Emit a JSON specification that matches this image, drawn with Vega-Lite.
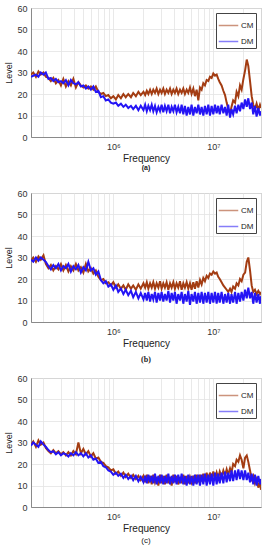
{
  "$schema": "https://vega.github.io/schema/vega-lite/v6.json",
  "padding": {"top": 3, "left": 4, "right": 6, "bottom": 3},
  "background": "white",
  "bounds": "flush",
  "spacing": 56,
  "config": {
    "font": "Liberation Sans, DejaVu Sans",
    "view": {"stroke": "#a0a0a0", "strokeWidth": 1},
    "axis": {
      "labelFont": "Liberation Sans, DejaVu Sans",
      "titleFont": "Liberation Sans, DejaVu Sans",
      "labelColor": "#333333",
      "titleColor": "#222222",
      "titleFontWeight": "normal",
      "domainColor": "#8a8a8a",
      "gridColor": "#e3e3e3",
      "gridWidth": 0.8,
      "tickSize": 0
    },
    "legend": {
      "orient": "top-right",
      "offset": 5,
      "padding": 2,
      "strokeColor": "#444444",
      "fillColor": "white",
      "symbolType": "stroke",
      "symbolSize": 380,
      "symbolStrokeWidth": 1.5,
      "symbolOpacity": 0.55,
      "labelFontSize": 8,
      "labelColor": "#222222",
      "labelOffset": 2,
      "rowPadding": 1,
      "title": null
    }
  },
  "data": {"values": [
    {"f":1.5e5,"aCM":29,"aDM":28,"bCM":28.5,"bDM":29,"cCM":29,"cDM":28.5},
    {"f":1.58e5,"aCM":30,"aDM":28.5,"bCM":30,"bDM":28,"cCM":30.5,"cDM":30},
    {"f":1.68e5,"aCM":28,"aDM":29,"bCM":28,"bDM":30,"cCM":28,"cDM":29},
    {"f":1.78e5,"aCM":30.5,"aDM":28,"bCM":30.5,"bDM":28.5,"cCM":31,"cDM":28},
    {"f":1.88e5,"aCM":29,"aDM":30,"bCM":29,"bDM":30,"cCM":29,"cDM":30.5},
    {"f":2.0e5,"aCM":30,"aDM":29,"bCM":31,"bDM":29,"cCM":30,"cDM":29},
    {"f":2.11e5,"aCM":28,"aDM":30,"bCM":27,"bDM":28,"cCM":27.5,"cDM":28},
    {"f":2.24e5,"aCM":27.5,"aDM":27,"bCM":25,"bDM":26,"cCM":26,"cDM":26.5},
    {"f":2.37e5,"aCM":26,"aDM":27.5,"bCM":26.5,"bDM":24.5,"cCM":25,"cDM":25.5},
    {"f":2.51e5,"aCM":27.5,"aDM":26,"bCM":24,"bDM":26.5,"cCM":26.5,"cDM":26},
    {"f":2.66e5,"aCM":25,"aDM":27,"bCM":26,"bDM":25,"cCM":25,"cDM":24.5},
    {"f":2.82e5,"aCM":26.5,"aDM":25.5,"bCM":24.5,"bDM":27,"cCM":26,"cDM":25.5},
    {"f":2.99e5,"aCM":24,"aDM":26,"bCM":27,"bDM":24,"cCM":24.5,"cDM":24},
    {"f":3.16e5,"aCM":27,"aDM":25,"bCM":24,"bDM":26,"cCM":25.5,"cDM":25},
    {"f":3.35e5,"aCM":23.5,"aDM":26.5,"bCM":26.5,"bDM":25,"cCM":24,"cDM":24.5},
    {"f":3.55e5,"aCM":26,"aDM":24,"bCM":23.5,"bDM":27,"cCM":25.5,"cDM":23.5},
    {"f":3.76e5,"aCM":24,"aDM":26.5,"bCM":26,"bDM":23.5,"cCM":24,"cDM":25},
    {"f":3.98e5,"aCM":27,"aDM":25,"bCM":24,"bDM":26,"cCM":26,"cDM":24},
    {"f":4.22e5,"aCM":23,"aDM":24.5,"bCM":27,"bDM":24.5,"cCM":24.5,"cDM":25.5},
    {"f":4.47e5,"aCM":25.5,"aDM":25.5,"bCM":24,"bDM":26.5,"cCM":30,"cDM":24},
    {"f":4.73e5,"aCM":24,"aDM":23.5,"bCM":25.5,"bDM":23,"cCM":25,"cDM":25},
    {"f":5.01e5,"aCM":23,"aDM":24,"bCM":23,"bDM":25.5,"cCM":27,"cDM":23.5},
    {"f":5.31e5,"aCM":24,"aDM":22.5,"bCM":27,"bDM":24,"cCM":24.5,"cDM":25},
    {"f":5.62e5,"aCM":22.5,"aDM":23.5,"bCM":23.5,"bDM":28,"cCM":26,"cDM":23},
    {"f":5.96e5,"aCM":23.5,"aDM":22,"bCM":25,"bDM":24,"cCM":23.5,"cDM":24},
    {"f":6.31e5,"aCM":22,"aDM":23.5,"bCM":22.5,"bDM":25,"cCM":25,"cDM":22},
    {"f":6.68e5,"aCM":23.5,"aDM":21,"bCM":24,"bDM":22,"cCM":22.5,"cDM":22.5},
    {"f":7.08e5,"aCM":21,"aDM":21.5,"bCM":21,"bDM":23.5,"cCM":23,"cDM":20.5},
    {"f":7.5e5,"aCM":20,"aDM":18.5,"bCM":19.5,"bDM":19.5,"cCM":21,"cDM":21},
    {"f":7.94e5,"aCM":20.5,"aDM":19,"bCM":20,"bDM":18,"cCM":20.5,"cDM":19},
    {"f":8.41e5,"aCM":19,"aDM":17,"bCM":18,"bDM":19,"cCM":19,"cDM":18.5},
    {"f":8.91e5,"aCM":19.5,"aDM":17.5,"bCM":18.5,"bDM":16.5,"cCM":18.5,"cDM":17},
    {"f":9.44e5,"aCM":18,"aDM":16,"bCM":17,"bDM":17.5,"cCM":17,"cDM":16.5},
    {"f":1.0e6,"aCM":19,"aDM":15.5,"bCM":18.5,"bDM":15,"cCM":17.5,"cDM":15},
    {"f":1.06e6,"aCM":17.5,"aDM":16,"bCM":16,"bDM":17,"cCM":15.5,"cDM":16},
    {"f":1.12e6,"aCM":19.5,"aDM":14.5,"bCM":17.5,"bDM":14,"cCM":16.5,"cDM":14.5},
    {"f":1.19e6,"aCM":18,"aDM":15.5,"bCM":15.5,"bDM":15.5,"cCM":14.5,"cDM":15.5},
    {"f":1.26e6,"aCM":20,"aDM":14,"bCM":17,"bDM":13,"cCM":16,"cDM":13.5},
    {"f":1.33e6,"aCM":18.5,"aDM":15,"bCM":15,"bDM":15,"cCM":14,"cDM":15},
    {"f":1.41e6,"aCM":20,"aDM":13.5,"bCM":17.5,"bDM":12.5,"cCM":15.5,"cDM":13},
    {"f":1.5e6,"aCM":18.5,"aDM":14.5,"bCM":15.5,"bDM":14.5,"cCM":13.5,"cDM":14.5},
    {"f":1.58e6,"aCM":20.5,"aDM":13,"bCM":17,"bDM":11.5,"cCM":15,"cDM":12.5},
    {"f":1.68e6,"aCM":19,"aDM":14.5,"bCM":15,"bDM":14,"cCM":13,"cDM":14.5},
    {"f":1.78e6,"aCM":21,"aDM":12.5,"bCM":17.5,"bDM":11,"cCM":14.5,"cDM":12},
    {"f":1.88e6,"aCM":19.5,"aDM":14.5,"bCM":15.5,"bDM":13.5,"cCM":12.5,"cDM":14},
    {"f":2.0e6,"aCM":21,"aDM":12.5,"bCM":18,"bDM":10.5,"cCM":14.5,"cDM":11.5},
    {"f":2.08e6,"aCM":19.5,"aDM":15,"bCM":16,"bDM":13.5,"cCM":11.5,"cDM":14.5},
    {"f":2.16e6,"aCM":21.5,"aDM":12,"bCM":18.5,"bDM":10,"cCM":15,"cDM":11},
    {"f":2.24e6,"aCM":20,"aDM":14.5,"bCM":15.5,"bDM":14,"cCM":11,"cDM":15},
    {"f":2.33e6,"aCM":22,"aDM":12.5,"bCM":18,"bDM":9.5,"cCM":14.5,"cDM":11.5},
    {"f":2.42e6,"aCM":20,"aDM":15,"bCM":16,"bDM":13,"cCM":10.5,"cDM":14.5},
    {"f":2.51e6,"aCM":22,"aDM":12,"bCM":18.5,"bDM":10.5,"cCM":15,"cDM":11},
    {"f":2.61e6,"aCM":20.5,"aDM":14.5,"bCM":15.5,"bDM":14,"cCM":11.5,"cDM":15.5},
    {"f":2.71e6,"aCM":22.5,"aDM":11.5,"bCM":18,"bDM":9,"cCM":14,"cDM":10.5},
    {"f":2.82e6,"aCM":20,"aDM":14,"bCM":16,"bDM":13.5,"cCM":10,"cDM":14.5},
    {"f":2.93e6,"aCM":22,"aDM":12,"bCM":19,"bDM":10,"cCM":15,"cDM":11},
    {"f":3.04e6,"aCM":20.5,"aDM":15,"bCM":15.5,"bDM":14,"cCM":11,"cDM":15},
    {"f":3.16e6,"aCM":22.5,"aDM":11.5,"bCM":18,"bDM":9.5,"cCM":14.5,"cDM":10.5},
    {"f":3.28e6,"aCM":20,"aDM":14.5,"bCM":16,"bDM":13,"cCM":10.5,"cDM":14.5},
    {"f":3.41e6,"aCM":22,"aDM":12,"bCM":18.5,"bDM":10,"cCM":15,"cDM":11},
    {"f":3.55e6,"aCM":20.5,"aDM":15,"bCM":15,"bDM":14.5,"cCM":11,"cDM":15.5},
    {"f":3.69e6,"aCM":22.5,"aDM":11,"bCM":18,"bDM":9,"cCM":14,"cDM":10.5},
    {"f":3.83e6,"aCM":20,"aDM":14,"bCM":16,"bDM":13.5,"cCM":10,"cDM":14.5},
    {"f":3.98e6,"aCM":22,"aDM":12,"bCM":18.5,"bDM":10,"cCM":15,"cDM":11},
    {"f":4.13e6,"aCM":20.5,"aDM":15,"bCM":15.5,"bDM":14,"cCM":11.5,"cDM":15},
    {"f":4.29e6,"aCM":22.5,"aDM":11.5,"bCM":18,"bDM":8.5,"cCM":14.5,"cDM":10.5},
    {"f":4.46e6,"aCM":20,"aDM":14,"bCM":16,"bDM":13,"cCM":10.5,"cDM":15},
    {"f":4.64e6,"aCM":22,"aDM":11,"bCM":19,"bDM":10,"cCM":14,"cDM":11},
    {"f":4.82e6,"aCM":20.5,"aDM":15,"bCM":15,"bDM":14,"cCM":11,"cDM":15.5},
    {"f":5.01e6,"aCM":22.5,"aDM":10.5,"bCM":18,"bDM":8.5,"cCM":15,"cDM":10.5},
    {"f":5.2e6,"aCM":20,"aDM":14.5,"bCM":16,"bDM":13,"cCM":10.5,"cDM":14.5},
    {"f":5.41e6,"aCM":22,"aDM":10,"bCM":18.5,"bDM":9.5,"cCM":14.5,"cDM":10},
    {"f":5.62e6,"aCM":20.5,"aDM":14,"bCM":15.5,"bDM":14.5,"cCM":11,"cDM":15},
    {"f":5.84e6,"aCM":23,"aDM":10.5,"bCM":18,"bDM":8,"cCM":14,"cDM":10.5},
    {"f":6.06e6,"aCM":20,"aDM":15,"bCM":15,"bDM":13,"cCM":11.5,"cDM":14.5},
    {"f":6.31e6,"aCM":22.5,"aDM":10,"bCM":18.5,"bDM":9.5,"cCM":14.5,"cDM":10},
    {"f":6.55e6,"aCM":19,"aDM":14,"bCM":15.5,"bDM":14,"cCM":11,"cDM":15},
    {"f":6.81e6,"aCM":22,"aDM":11,"bCM":19,"bDM":8.5,"cCM":15,"cDM":10.5},
    {"f":7.08e6,"aCM":17,"aDM":15,"bCM":16,"bDM":13.5,"cCM":11.5,"cDM":15},
    {"f":7.36e6,"aCM":23,"aDM":10.5,"bCM":19.5,"bDM":9,"cCM":15,"cDM":10},
    {"f":7.64e6,"aCM":22,"aDM":14,"bCM":17.5,"bDM":14,"cCM":12,"cDM":15},
    {"f":7.94e6,"aCM":25,"aDM":10,"bCM":20.5,"bDM":8.5,"cCM":15.5,"cDM":10.5},
    {"f":8.25e6,"aCM":24,"aDM":14.5,"bCM":19,"bDM":13.5,"cCM":12,"cDM":15.5},
    {"f":8.58e6,"aCM":26.5,"aDM":10.5,"bCM":21.5,"bDM":9,"cCM":16,"cDM":10},
    {"f":8.91e6,"aCM":26,"aDM":15,"bCM":20.5,"bDM":14,"cCM":12.5,"cDM":15},
    {"f":9.26e6,"aCM":28,"aDM":10,"bCM":22.5,"bDM":8.5,"cCM":16,"cDM":10.5},
    {"f":9.62e6,"aCM":27.5,"aDM":14.5,"bCM":22,"bDM":13.5,"cCM":13,"cDM":15.5},
    {"f":1.0e7,"aCM":29.5,"aDM":10.5,"bCM":23.5,"bDM":9,"cCM":16.5,"cDM":10},
    {"f":1.04e7,"aCM":28.5,"aDM":15,"bCM":22.5,"bDM":14,"cCM":13,"cDM":16},
    {"f":1.08e7,"aCM":29,"aDM":11,"bCM":23,"bDM":8.5,"cCM":16,"cDM":10.5},
    {"f":1.12e7,"aCM":27,"aDM":14.5,"bCM":21,"bDM":13.5,"cCM":13.5,"cDM":15.5},
    {"f":1.16e7,"aCM":25.5,"aDM":10.5,"bCM":20,"bDM":9,"cCM":16.5,"cDM":11},
    {"f":1.21e7,"aCM":24,"aDM":15,"bCM":18.5,"bDM":14,"cCM":14,"cDM":16},
    {"f":1.26e7,"aCM":21.5,"aDM":11,"bCM":17,"bDM":8.5,"cCM":17,"cDM":11},
    {"f":1.31e7,"aCM":19.5,"aDM":14,"bCM":16,"bDM":13,"cCM":14.5,"cDM":16.5},
    {"f":1.36e7,"aCM":16,"aDM":10,"bCM":15,"bDM":9,"cCM":17.5,"cDM":11.5},
    {"f":1.41e7,"aCM":13,"aDM":15,"bCM":14,"bDM":13.5,"cCM":15,"cDM":16},
    {"f":1.47e7,"aCM":11,"aDM":9,"bCM":15.5,"bDM":8.5,"cCM":18,"cDM":12},
    {"f":1.52e7,"aCM":14,"aDM":13,"bCM":14,"bDM":13,"cCM":16,"cDM":17},
    {"f":1.58e7,"aCM":17,"aDM":10.5,"bCM":16.5,"bDM":9,"cCM":20,"cDM":12},
    {"f":1.65e7,"aCM":16,"aDM":14.5,"bCM":15.5,"bDM":14,"cCM":19,"cDM":17},
    {"f":1.71e7,"aCM":21,"aDM":11,"bCM":18,"bDM":8.5,"cCM":22,"cDM":12.5},
    {"f":1.78e7,"aCM":19,"aDM":15,"bCM":17,"bDM":13.5,"cCM":21,"cDM":17.5},
    {"f":1.85e7,"aCM":24,"aDM":12,"bCM":20,"bDM":9.5,"cCM":24,"cDM":13},
    {"f":1.92e7,"aCM":22,"aDM":16,"bCM":19,"bDM":14,"cCM":22,"cDM":17},
    {"f":2.0e7,"aCM":27,"aDM":13,"bCM":22,"bDM":10,"cCM":18,"cDM":12.5},
    {"f":2.08e7,"aCM":31,"aDM":17.5,"bCM":23,"bDM":15,"cCM":23,"cDM":17},
    {"f":2.16e7,"aCM":36,"aDM":14,"bCM":28,"bDM":11,"cCM":24,"cDM":12.5},
    {"f":2.24e7,"aCM":33,"aDM":18,"bCM":30,"bDM":16,"cCM":21,"cDM":16},
    {"f":2.33e7,"aCM":26,"aDM":13,"bCM":24,"bDM":11,"cCM":17,"cDM":11.5},
    {"f":2.42e7,"aCM":19,"aDM":16,"bCM":17,"bDM":14,"cCM":13,"cDM":15.5},
    {"f":2.51e7,"aCM":15,"aDM":10.5,"bCM":14,"bDM":8.5,"cCM":14.5,"cDM":10.5},
    {"f":2.61e7,"aCM":13,"aDM":14.5,"bCM":15,"bDM":13.5,"cCM":11,"cDM":15},
    {"f":2.71e7,"aCM":15.5,"aDM":9.5,"bCM":13,"bDM":9,"cCM":13,"cDM":10},
    {"f":2.82e7,"aCM":12.5,"aDM":13.5,"bCM":14.5,"bDM":13,"cCM":9,"cDM":14.5},
    {"f":2.93e7,"aCM":15,"aDM":10,"bCM":13,"bDM":8.5,"cCM":12,"cDM":10.5},
    {"f":3.0e7,"aCM":13.5,"aDM":12,"bCM":14,"bDM":12,"cCM":8,"cDM":13}
  ]},
  "resolve": {"scale": {"color": "independent"}},
  "vconcat": [
    {
      "width": 230, "height": 129,
      "title": {"text": "(a)", "orient": "bottom", "anchor": "middle", "font": "Liberation Sans", "fontSize": 7, "fontWeight": "bold", "color": "#222222", "offset": 1},
      "transform": [{"fold": ["aCM", "aDM"], "as": ["s", "v"]}],
      "mark": {"type": "line", "strokeWidth": 2, "clip": true},
      "encoding": {
        "x": {"field": "f", "type": "quantitative", "scale": {"type": "log", "domain": [150000, 30000000], "nice": false},
          "axis": {"title": "Frequency", "titleFontSize": 10, "titlePadding": 2, "labelFontSize": 9, "labelPadding": 5, "grid": true,
            "values": [200000, 300000, 400000, 500000, 600000, 700000, 800000, 900000, 1000000, 2000000, 3000000, 4000000, 5000000, 6000000, 7000000, 8000000, 9000000, 10000000, 20000000, 30000000],
            "labelExpr": "datum.value == 1000000 ? '10⁶' : (datum.value == 10000000 ? '10⁷' : '')"}},
        "y": {"field": "v", "type": "quantitative", "scale": {"domain": [0, 60], "nice": false},
          "axis": {"title": "Level", "titleFontSize": 9, "titlePadding": 3, "labelFontSize": 9, "labelPadding": 4, "values": [0, 10, 20, 30, 40, 50, 60]}},
        "color": {"field": "s", "type": "nominal", "scale": {"domain": ["aCM", "aDM"], "range": ["#a33c12", "#2414f5"]},
          "legend": {"labelExpr": "slice(datum.label, 1)"}}
      }
    },
    {
      "width": 230, "height": 129,
      "title": {"text": "(b)", "orient": "bottom", "anchor": "middle", "font": "Liberation Serif", "fontSize": 8, "fontWeight": "bold", "color": "#222222", "offset": 8},
      "transform": [{"fold": ["bCM", "bDM"], "as": ["s", "v"]}],
      "mark": {"type": "line", "strokeWidth": 2, "clip": true},
      "encoding": {
        "x": {"field": "f", "type": "quantitative", "scale": {"type": "log", "domain": [150000, 30000000], "nice": false},
          "axis": {"title": "Frequency", "titleFontSize": 10, "titlePadding": 2, "labelFontSize": 9, "labelPadding": 5, "grid": true,
            "values": [200000, 300000, 400000, 500000, 600000, 700000, 800000, 900000, 1000000, 2000000, 3000000, 4000000, 5000000, 6000000, 7000000, 8000000, 9000000, 10000000, 20000000, 30000000],
            "labelExpr": "datum.value == 1000000 ? '10⁶' : (datum.value == 10000000 ? '10⁷' : '')"}},
        "y": {"field": "v", "type": "quantitative", "scale": {"domain": [0, 60], "nice": false},
          "axis": {"title": "Level", "titleFontSize": 9, "titlePadding": 3, "labelFontSize": 9, "labelPadding": 4, "values": [0, 10, 20, 30, 40, 50, 60]}},
        "color": {"field": "s", "type": "nominal", "scale": {"domain": ["bCM", "bDM"], "range": ["#a33c12", "#2414f5"]},
          "legend": {"labelExpr": "slice(datum.label, 1)"}}
      }
    },
    {
      "width": 230, "height": 129,
      "title": {"text": "(c)", "orient": "bottom", "anchor": "middle", "font": "Liberation Sans", "fontSize": 8, "fontWeight": "normal", "color": "#222222", "offset": 4},
      "transform": [{"fold": ["cCM", "cDM"], "as": ["s", "v"]}],
      "mark": {"type": "line", "strokeWidth": 2, "clip": true},
      "encoding": {
        "x": {"field": "f", "type": "quantitative", "scale": {"type": "log", "domain": [150000, 30000000], "nice": false},
          "axis": {"title": "Frequency", "titleFontSize": 10, "titlePadding": 2, "labelFontSize": 9, "labelPadding": 5, "grid": true,
            "values": [200000, 300000, 400000, 500000, 600000, 700000, 800000, 900000, 1000000, 2000000, 3000000, 4000000, 5000000, 6000000, 7000000, 8000000, 9000000, 10000000, 20000000, 30000000],
            "labelExpr": "datum.value == 1000000 ? '10⁶' : (datum.value == 10000000 ? '10⁷' : '')"}},
        "y": {"field": "v", "type": "quantitative", "scale": {"domain": [0, 60], "nice": false},
          "axis": {"title": "Level", "titleFontSize": 9, "titlePadding": 3, "labelFontSize": 9, "labelPadding": 4, "values": [0, 10, 20, 30, 40, 50, 60]}},
        "color": {"field": "s", "type": "nominal", "scale": {"domain": ["cCM", "cDM"], "range": ["#a33c12", "#2414f5"]},
          "legend": {"labelExpr": "slice(datum.label, 1)"}}
      }
    }
  ]
}
